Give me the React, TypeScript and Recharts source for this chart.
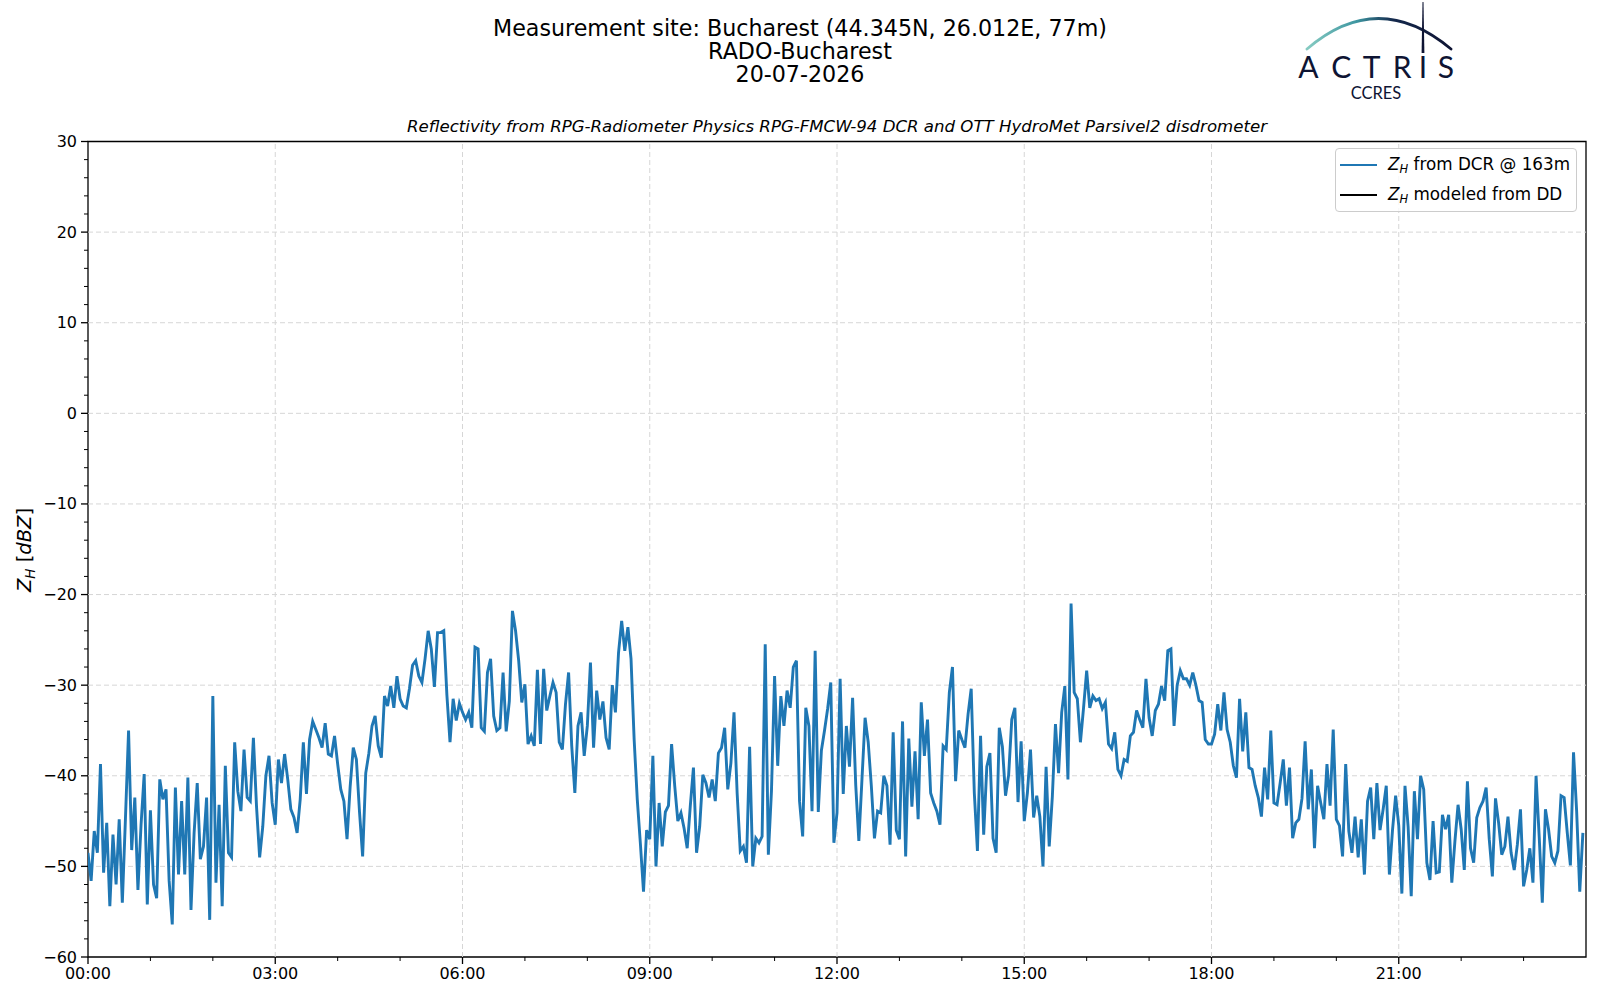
import React from 'react';
import { LineChart, Line, XAxis, YAxis, ReferenceLine, ReferenceArea, Legend } from 'recharts';

// Z_H from DCR @ 163m, dBZ, one value every 3 minutes
const STEP_MIN = 3;

const Z_00_03 = [
  -48.5, -51.6, -46.1, -48.5, -38.7, -50.7, -45.2, -54.4, -46.5, -52,
  -44.8, -54, -44.7, -35, -48.2, -42.4, -52.6, -45.4, -39.8, -54.2,
  -43.8, -52, -53.5, -40.4, -42.6, -41.5, -51.6, -56.4, -41.3, -50.9,
  -42.8, -50.9, -40.2, -54.8, -46.3, -40.8, -49.2, -47.8, -42.4, -55.9,
  -31.2, -51.8, -43.2, -54.4, -38.9, -48.5, -49, -36.3, -41.7, -43.9,
  -37.1, -42.4, -42.8, -35.8, -43.4, -49, -45.6, -40, -37.8, -43,
];
const Z_03_06 = [
  -45.4, -38.2, -40.8, -37.6, -40.4, -43.7, -44.6, -46.3, -42.6, -36.3,
  -42, -36, -34, -34.9, -35.8, -36.9, -34.2, -37.6, -37.8, -35.6,
  -38.7, -41.5, -42.8, -47, -41.2, -36.9, -38.2, -44, -48.9, -39.7,
  -37.5, -34.5, -33.4, -36.7, -38, -31.2, -32.3, -30.1, -32.5, -29,
  -31.5, -32.3, -32.5, -30.4, -27.8, -27.3, -29, -29.7, -27.1, -24,
  -26, -30.2, -24.2, -24.2, -24, -31.1, -36.3, -31.5, -33.9, -32,
];
const Z_06_09 = [
  -33, -33.8, -33, -34.7, -25.8, -26, -34.7, -35.1, -28.6, -27.1,
  -33.4, -35, -34.7, -28.6, -35.1, -31.8, -21.8, -24, -27.3, -31.9,
  -29.9, -36.5, -35.6, -36.7, -28.3, -36.5, -28.2, -32.8, -31.2, -29.7,
  -30.8, -36.3, -37.1, -32.1, -28.6, -36.7, -41.9, -34.5, -33, -37.8,
  -34.5, -27.5, -36.9, -30.6, -33.8, -31.8, -35.8, -37.1, -30, -33,
  -26.4, -22.9, -26.2, -23.6, -27.1, -36, -42.6, -47.5, -52.8, -46,
];
const Z_09_12 = [
  -47, -37.8, -50, -43, -47.8, -44, -43.3, -36.5, -41.1, -45,
  -44.1, -45.8, -48, -43.3, -39.1, -48.5, -45.6, -39.9, -40.8, -42.4,
  -40.4, -42.8, -37.5, -36.9, -34.7, -41.5, -38.6, -33, -41.9, -48.3,
  -47.8, -49.6, -36.8, -50, -46.9, -47.4, -46.7, -25.5, -48.7, -41.7,
  -29, -38.9, -31.2, -34.5, -30.6, -32.5, -28, -27.3, -42.8, -46.7,
  -32.5, -34.5, -43.9, -26.2, -44, -37.2, -35, -32.6, -29.7, -47.4,
];
const Z_12_15 = [
  -44.1, -29.3, -42, -34.5, -39, -31.4, -41, -47.2, -40.4, -33.6,
  -36.3, -41.1, -46.9, -43.9, -44.1, -40, -41.1, -47.6, -35.2, -46,
  -47, -34, -48.9, -35.9, -43.4, -37.3, -44.8, -31.9, -37.8, -33.8,
  -41.9, -43, -43.9, -45.4, -36.7, -37.1, -30.8, -28, -40.6, -35,
  -36, -36.9, -33.2, -30.4, -41.9, -48.3, -35.6, -46.5, -39, -37.5,
  -46.9, -48.5, -34.7, -36.8, -42.2, -39.9, -33.8, -32.5, -42.9, -36.2,
];
const Z_15_18 = [
  -45, -41.9, -37.1, -44.6, -42.2, -44.5, -50, -39, -47.8, -42.3,
  -34.3, -39.7, -33, -30.1, -40.4, -21, -30.8, -31.5, -36.3, -32.5,
  -28.4, -32.5, -31.2, -31.7, -31.5, -32.6, -31.9, -36.5, -37, -35.2,
  -39.3, -40, -38.2, -38.4, -35.6, -35.2, -32.8, -33.8, -34.7, -29.3,
  -33.6, -35.6, -32.8, -32.1, -30.1, -31.7, -26.2, -26, -34.5, -30,
  -28.4, -29.3, -29.3, -30, -28.6, -30, -31.7, -31.9, -36, -36.5,
];
const Z_18_21 = [
  -36.5, -35.4, -32.1, -35, -30.8, -34.9, -36.3, -38.9, -40.2, -31.5,
  -37.3, -33, -39.1, -39.3, -41.1, -42.4, -44.5, -39.1, -42.6, -35,
  -43, -43.2, -40.8, -38.2, -43.3, -39.1, -46.9, -45.2, -44.8, -42.5,
  -36.2, -43.7, -39.3, -48, -41.1, -43, -44.8, -38.7, -43.3, -34.9,
  -44.8, -45.5, -48.9, -38.7, -46.1, -48.5, -44.5, -49, -44.8, -50.9,
  -42.8, -41.3, -47, -40.8, -46, -43.7, -41.1, -50.9, -46, -42.2,
];
const Z_21_24 = [
  -45.5, -53, -41.1, -45.6, -53.3, -41.7, -47, -40, -41.5, -49.6,
  -51.5, -45, -50.7, -50.6, -44.3, -45.9, -44.3, -51.8, -47.2, -43.2,
  -45.9, -50.4, -40.6, -48, -49.6, -44.6, -43.5, -42.8, -41.3, -47,
  -51.1, -42.5, -45.2, -48.7, -47.8, -44.5, -48.5, -50.4, -47.6, -43.7,
  -52.2, -50.4, -48, -51.8, -40, -46.7, -54, -43.7, -45.9, -48.9,
  -49.6, -48.3, -42.2, -42.4, -46.3, -49.9, -37.4, -43.9, -52.8, -46.3,
];

const Z_DCR = [...Z_00_03, ...Z_03_06, ...Z_06_09, ...Z_09_12, ...Z_12_15, ...Z_15_18, ...Z_18_21, ...Z_21_24];

const SERIES_NAMES = ['Z_H from DCR @ 163m', 'Z_H modeled from DD'];
const SERIES_COLORS = ['#1f77b4', '#000000'];

// minutes since 00:00
const X_TICKS = [0, 60, 120, 180, 240, 300, 360, 420, 480, 540, 600, 660, 720, 780, 840, 900, 960, 1020, 1080, 1140, 1200, 1260, 1320, 1380];
const X_MAJOR = [0, 180, 360, 540, 720, 900, 1080, 1260];
const Y_TICKS = [
  -60, -58, -56, -54, -52, -50, -48, -46, -44, -42, -40, -38, -36, -34, -32, -30,
  -28, -26, -24, -22, -20, -18, -16, -14, -12, -10, -8, -6, -4, -2, 0,
  2, 4, 6, 8, 10, 12, 14, 16, 18, 20, 22, 24, 26, 28, 30,
];
const Y_MAJOR = [-60, -50, -40, -30, -20, -10, 0, 10, 20, 30];

const TITLE_LINES = ['Measurement site: Bucharest (44.345N, 26.012E, 77m)', 'RADO-Bucharest', '20-07-2026'];
const SUBTITLE = 'Reflectivity from RPG-Radiometer Physics RPG-FMCW-94 DCR and OTT HydroMet Parsivel2 disdrometer';

const data = Z_DCR.map((z, i) => ({ t: i * STEP_MIN, dcr: z }));

const FONT = 'DejaVu Sans';

const fmtHour = (m: number) =>
  `${String(Math.floor(m / 60)).padStart(2, '0')}:${String(m % 60).padStart(2, '0')}`;
const fmtY = (v: number) => (v < 0 ? `\u2212${-v}` : `${v}`);

const XTick = (props: any) => {
  const { x, y, payload } = props;
  const major = X_MAJOR.includes(payload.value);
  const len = major ? 7 : 4;
  return (
    <g>
      <line x1={x} x2={x} y1={y} y2={y + len} stroke="#000" strokeWidth={major ? 1.3 : 1} />
      {major && (
        <text x={x} y={y + len + 15} textAnchor="middle" fontSize={16} fontFamily={FONT} fill="#000">
          {fmtHour(payload.value)}
        </text>
      )}
    </g>
  );
};

const YTick = (props: any) => {
  const { x, y, payload } = props;
  const major = Y_MAJOR.includes(payload.value);
  const len = major ? 7 : 4;
  return (
    <g>
      <line x1={x - len} x2={x} y1={y} y2={y} stroke="#000" strokeWidth={major ? 1.3 : 1} />
      {major && (
        <text x={x - len - 4} y={y} textAnchor="end" dominantBaseline="central" fontSize={16} fontFamily={FONT} fill="#000">
          {fmtY(payload.value)}
        </text>
      )}
    </g>
  );
};

const LegendBox = ({ payload }: any) => (
  <div
    style={{
      boxSizing: 'border-box',
      width: 242,
      height: 64,
      border: '1px solid #cccccc',
      borderRadius: 4,
      background: 'rgba(255,255,255,0.8)',
      padding: '1px 0 0 4px',
      fontFamily: FONT,
      fontSize: 16.8,
      color: '#000',
    }}
  >
    {(payload || []).map((p: any) => (
      <div key={p.value} style={{ display: 'flex', alignItems: 'center', height: 30 }}>
        <span style={{ display: 'inline-block', width: 37, height: 2.8, background: p.color, marginRight: 11 }} />
        <span style={{ whiteSpace: 'nowrap' }}>
          <i>Z</i>
          <sub style={{ fontSize: 11.5, fontStyle: 'italic', verticalAlign: -3 }}>H</sub>
          {String(p.value).replace(/^Z_H/, '')}
        </span>
      </div>
    ))}
  </div>
);

const Overlay = () => (
  <svg width={1600} height={1000} style={{ position: 'absolute', left: 0, top: 0, pointerEvents: 'none' }}>
    <defs>
      <linearGradient id="arcGrad" x1="0" y1="0" x2="1" y2="0">
        <stop offset="0%" stopColor="#86cbc2" />
        <stop offset="35%" stopColor="#3d95a0" />
        <stop offset="60%" stopColor="#14284c" />
        <stop offset="100%" stopColor="#0e1433" />
      </linearGradient>
    </defs>
    {TITLE_LINES.map((s, i) => (
      <text key={s} x={800} y={36 + i * 23.2} textAnchor="middle" fontSize={22.2} fontFamily={FONT} fill="#000">
        {s}
      </text>
    ))}
    <text x={837} y={131.5} textAnchor="middle" fontSize={16.6} fontStyle="italic" fontFamily={FONT} fill="#000">
      {SUBTITLE}
    </text>
    <text transform="translate(31,550) rotate(-90)" textAnchor="middle" fontSize={19.5} fontFamily={FONT} fill="#000">
      <tspan fontStyle="italic">Z</tspan>
      <tspan fontStyle="italic" fontSize={13.5} dy={4}>H</tspan>
      <tspan dy={-4}> [</tspan>
      <tspan fontStyle="italic">dBZ</tspan>
      <tspan>]</tspan>
    </text>
    {/* ACTRIS logo */}
    <path d="M 1307 49 Q 1378 -12 1451 49" fill="none" stroke="url(#arcGrad)" strokeWidth={2.8} strokeLinecap="round" />
    <polygon points="1422.5,2 1423.5,2 1424.4,53 1421.6,53" fill="#0e1433" />
    {['A', 'C', 'T', 'R', 'I', 'S'].map((c, i) => (
      <text
        key={c}
        x={[1308.5, 1341.2, 1371.7, 1402.2, 1423, 1446][i]}
        y={77.5}
        textAnchor="middle"
        fontSize={30}
        fontFamily="Lato"
        fill="#0e1433"
      >
        {c}
      </text>
    ))}
    <text x={1376} y={98.5} textAnchor="middle" fontSize={16.5} fontFamily="Lato" fill="#0e1433">
      CCRES
    </text>
  </svg>
);

export default function App() {
  return (
    <div style={{ position: 'absolute', left: 0, top: 0, width: 1600, height: 1000, background: '#fff', fontFamily: FONT }}>
      <LineChart width={1600} height={1000} data={data} margin={{ top: 141.5, right: 14, bottom: 13, left: 28 }}>
        <XAxis
          dataKey="t"
          type="number"
          domain={[0, 1440]}
          ticks={X_TICKS}
          interval={0}
          height={30}
          tickSize={0}
          tickMargin={0}
          tickLine={false}
          axisLine={false}
          tick={XTick}
          allowDataOverflow
        />
        <YAxis
          type="number"
          domain={[-60, 30]}
          ticks={Y_TICKS}
          interval={0}
          width={60}
          tickSize={0}
          tickMargin={0}
          tickLine={false}
          axisLine={false}
          tick={YTick}
          allowDataOverflow
        />
        {X_MAJOR.filter((v) => v > 0).map((v) => (
          <ReferenceLine key={`gx${v}`} x={v} stroke="#d6d6d6" strokeWidth={1} strokeDasharray="5 3" />
        ))}
        {Y_MAJOR.filter((v) => v > -60 && v < 30).map((v) => (
          <ReferenceLine key={`gy${v}`} y={v} stroke="#d6d6d6" strokeWidth={1} strokeDasharray="5 3" />
        ))}
        <Line
          dataKey="dcr"
          name={SERIES_NAMES[0]}
          stroke={SERIES_COLORS[0]}
          strokeWidth={2.9}
          dot={false}
          type="linear"
          isAnimationActive={false}
        />
        <Line
          dataKey="dd"
          name={SERIES_NAMES[1]}
          stroke={SERIES_COLORS[1]}
          strokeWidth={2.9}
          dot={false}
          type="linear"
          isAnimationActive={false}
        />
        <ReferenceArea x1={0} x2={1440} y1={-60} y2={30} fill="none" fillOpacity={0} stroke="#000" strokeWidth={1.3} />
        <Legend
          layout="horizontal"
          verticalAlign="middle"
          align="center"
          content={LegendBox}
          wrapperStyle={{ left: 1335, top: 148, width: 242, height: 64 }}
        />
      </LineChart>
      <Overlay />
    </div>
  );
}
